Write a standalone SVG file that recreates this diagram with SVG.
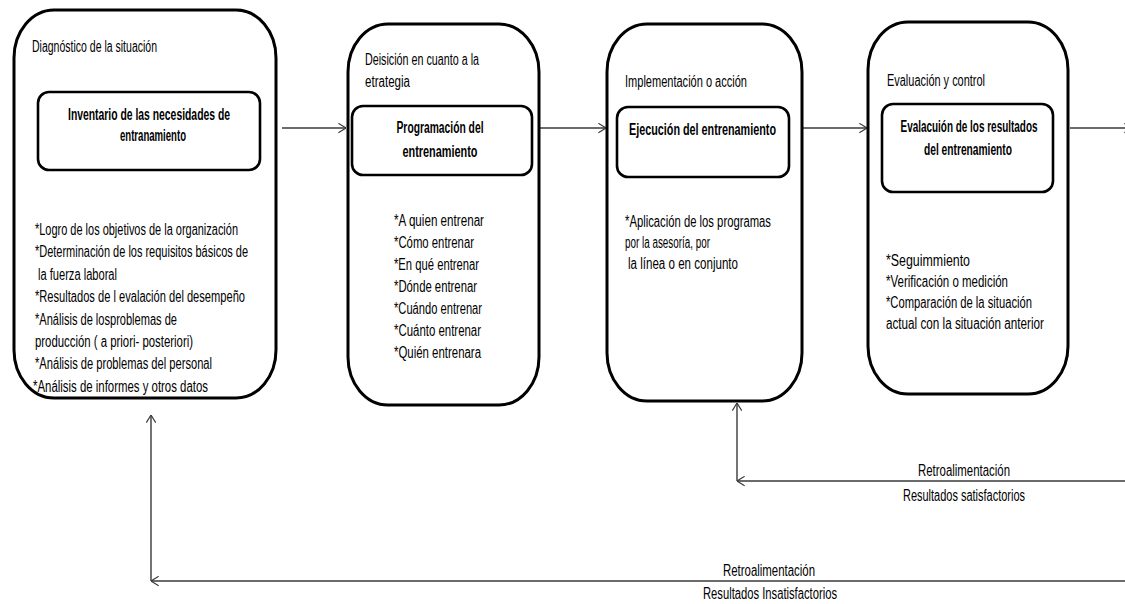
<svg xmlns="http://www.w3.org/2000/svg" width="1125" height="604" viewBox="0 0 1125 604">
  <style>
    text { font-family: "Liberation Sans Narrow", "Liberation Sans", Arial, sans-serif; font-size: 16px; fill: #000; }
    .b { font-weight: bold; }
    .m { text-anchor: middle; }
    .stage { fill: #fff; stroke: #000; stroke-width: 3; }
    .task { fill: #fff; stroke: #000; stroke-width: 2.6; }
    .link { fill: none; stroke: #3a3a3a; stroke-width: 1.4; marker-end: url(#open); }
  </style>
  <defs>
    <marker id="open" viewBox="0 0 10 12" refX="9.5" refY="6" markerWidth="9" markerHeight="11" markerUnits="userSpaceOnUse" orient="auto">
      <path d="M1,0.8 L9.5,6 L1,11.2" fill="none" stroke="#3a3a3a" stroke-width="1.3"/>
    </marker>
  </defs>
  <rect width="1125" height="604" fill="#fff"/>

  <!-- connectors -->
  <g id="connectors">
    <path class="link" d="M282,128 H346"/>
    <path class="link" d="M540,128 H606"/>
    <path class="link" d="M803,128 H867"/>
    <path class="link" d="M1070,128 H1132"/>
    <path class="link" d="M1125,481 H737"/>
    <path class="link" d="M737,481 V403"/>
    <path class="link" d="M1125,581 H151"/>
    <path class="link" d="M151,581 V415"/>
    <text class="m" x="964" y="476" textLength="92" lengthAdjust="spacingAndGlyphs">Retroalimentación</text>
    <text class="m" x="964" y="501" textLength="122" lengthAdjust="spacingAndGlyphs">Resultados satisfactorios</text>
    <text class="m" x="769" y="576" textLength="92" lengthAdjust="spacingAndGlyphs">Retroalimentación</text>
    <text class="m" x="770" y="599" textLength="134" lengthAdjust="spacingAndGlyphs">Resultados Insatisfactorios</text>
  </g>

  <!-- stage 1: diagnosis -->
  <g id="diagnostico">
    <rect class="stage" x="14" y="10" width="262" height="388" rx="40" ry="48"/>
    <text x="32" y="52" textLength="125" lengthAdjust="spacingAndGlyphs">Diagnóstico de la situación</text>
    <rect class="task" x="38" y="92" width="222" height="78" rx="11"/>
    <text class="b m" x="149" y="120" textLength="162" lengthAdjust="spacingAndGlyphs">Inventario de las necesidades de</text>
    <text class="b m" x="153" y="141" textLength="66" lengthAdjust="spacingAndGlyphs">entranamiento</text>
    <text x="35" y="235" textLength="203" lengthAdjust="spacingAndGlyphs">*Logro de los objetivos de la organización</text>
    <text x="35" y="257" textLength="213" lengthAdjust="spacingAndGlyphs">*Determinación de los requisitos básicos de</text>
    <text x="38" y="280" textLength="79" lengthAdjust="spacingAndGlyphs">la fuerza laboral</text>
    <text x="35" y="302" textLength="210" lengthAdjust="spacingAndGlyphs">*Resultados de l evalación del desempeño</text>
    <text x="35" y="325" textLength="142" lengthAdjust="spacingAndGlyphs">*Análisis de losproblemas de</text>
    <text x="35" y="347" textLength="158" lengthAdjust="spacingAndGlyphs">producción ( a priori- posteriori)</text>
    <text x="35" y="369" textLength="177" lengthAdjust="spacingAndGlyphs">*Análisis de problemas del personal</text>
    <text x="33" y="392" textLength="175" lengthAdjust="spacingAndGlyphs">*Análisis  de informes y otros datos</text>
  </g>

  <!-- stage 2: strategy -->
  <g id="estrategia">
    <rect class="stage" x="348" y="24" width="191" height="381" rx="40" ry="48"/>
    <text x="365" y="65" textLength="114" lengthAdjust="spacingAndGlyphs">Deisición en cuanto a la</text>
    <text x="365" y="87" textLength="45" lengthAdjust="spacingAndGlyphs">etrategia</text>
    <rect class="task" x="352" y="106" width="180" height="69" rx="11"/>
    <text class="b m" x="440" y="133" textLength="87" lengthAdjust="spacingAndGlyphs">Programación del</text>
    <text class="b m" x="440" y="157" textLength="75" lengthAdjust="spacingAndGlyphs">entrenamiento</text>
    <text x="394" y="226" textLength="90" lengthAdjust="spacingAndGlyphs">*A quien entrenar</text>
    <text x="394" y="248" textLength="80" lengthAdjust="spacingAndGlyphs">*Cómo entrenar</text>
    <text x="394" y="270" textLength="85" lengthAdjust="spacingAndGlyphs">*En qué entrenar</text>
    <text x="394" y="292" textLength="83" lengthAdjust="spacingAndGlyphs">*Dónde entrenar</text>
    <text x="394" y="314" textLength="88" lengthAdjust="spacingAndGlyphs">*Cuándo entrenar</text>
    <text x="394" y="336" textLength="87" lengthAdjust="spacingAndGlyphs">*Cuánto entrenar</text>
    <text x="394" y="358" textLength="87" lengthAdjust="spacingAndGlyphs">*Quién entrenara</text>
  </g>

  <!-- stage 3: implementation -->
  <g id="implementacion">
    <rect class="stage" x="607" y="24" width="195" height="377" rx="40" ry="48"/>
    <text x="625" y="87" textLength="122" lengthAdjust="spacingAndGlyphs">Implementación o acción</text>
    <rect class="task" x="617" y="107" width="172" height="70" rx="11"/>
    <text x="629" y="135" class="b" textLength="147" lengthAdjust="spacingAndGlyphs">Ejecución  del entrenamiento</text>
    <text x="625" y="227" textLength="146" lengthAdjust="spacingAndGlyphs">*Aplicación de los programas</text>
    <text x="625" y="248" textLength="85" lengthAdjust="spacingAndGlyphs">por la asesoría, por</text>
    <text x="628" y="269" textLength="110" lengthAdjust="spacingAndGlyphs">la línea  o en conjunto</text>
  </g>

  <!-- stage 4: evaluation -->
  <g id="evaluacion">
    <rect class="stage" x="868" y="22" width="200" height="372" rx="40" ry="48"/>
    <text x="887" y="86" textLength="98" lengthAdjust="spacingAndGlyphs">Evaluación y control</text>
    <rect class="task" x="882" y="104" width="171" height="88" rx="11"/>
    <text class="b m" x="969" y="132" textLength="137" lengthAdjust="spacingAndGlyphs">Evalacuión de los resultados</text>
    <text class="b m" x="968" y="155" textLength="88" lengthAdjust="spacingAndGlyphs">del entrenamiento</text>
    <text x="886" y="266" textLength="84" lengthAdjust="spacingAndGlyphs">*Seguimmiento</text>
    <text x="886" y="287" textLength="122" lengthAdjust="spacingAndGlyphs">*Verificación o medición</text>
    <text x="886" y="308" textLength="146" lengthAdjust="spacingAndGlyphs">*Comparación de la situación</text>
    <text x="886" y="329" textLength="158" lengthAdjust="spacingAndGlyphs">actual con la situación anterior</text>
  </g>
</svg>
